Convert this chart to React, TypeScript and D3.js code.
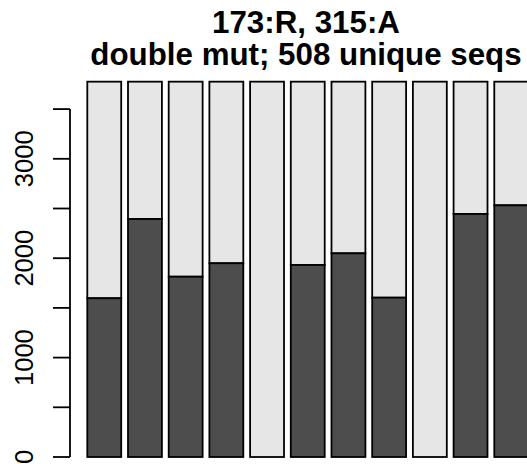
import { useEffect, useRef } from 'react'
import * as d3 from 'd3'

const W = 527, H = 464

const titleLines = ['173:R, 315:A', 'double mut; 508 unique seqs']
const bars = ['1', '2', '3', '4', '5', '6', '7', '8', '9', '10', '11']
const totals = [3776, 3776, 3776, 3776, 3776, 3776, 3776, 3776, 3776, 3776, 3776]
const darkVals = [1597, 2394, 1814, 1949, 0, 1932, 2049, 1603, 0, 2445, 2532]
const yTicks = [0, 500, 1000, 1500, 2000, 2500, 3000, 3500]
const yLabels = [0, 1000, 2000, 3000]

const FONT = 'Liberation Sans, Arial, Helvetica, sans-serif'

export default function App() {
  const svgRef = useRef<SVGSVGElement>(null)

  useEffect(() => {
    const svg = d3.select(svgRef.current!)
    svg.selectAll('*').remove()

    const x = d3.scaleBand<string>()
      .domain(bars)
      .range([87.3, 528.2])
      .paddingInner(1 / 6)
      .paddingOuter(0)

    const y = d3.scaleLinear().domain([0, 1000]).range([457, 357.6])

    svg.append('rect').attr('width', W).attr('height', H).attr('fill', '#fff')

    // light (top) part, drawn full height behind the dark part
    svg.append('g').selectAll('rect').data(bars).join('rect')
      .attr('x', d => x(d)!)
      .attr('width', x.bandwidth())
      .attr('y', (_, i) => y(totals[i]))
      .attr('height', (_, i) => y(darkVals[i]) - y(totals[i]))
      .attr('fill', '#e6e6e6')
      .attr('stroke', '#000')
      .attr('stroke-width', 1.8)

    svg.append('g').selectAll('rect').data(bars).join('rect')
      .attr('x', d => x(d)!)
      .attr('width', x.bandwidth())
      .attr('y', (_, i) => y(darkVals[i]))
      .attr('height', (_, i) => y(0) - y(darkVals[i]))
      .attr('fill', '#4d4d4d')
      .attr('stroke', '#000')
      .attr('stroke-width', 1.8)

    // y axis, R style
    const ax = svg.append('g').attr('transform', 'translate(70,0)')
    ax.append('line')
      .attr('y1', y(0)).attr('y2', y(3500))
      .attr('stroke', '#000').attr('stroke-width', 1.8)
    ax.selectAll('line.tick').data(yTicks).join('line')
      .attr('class', 'tick')
      .attr('x1', -17).attr('x2', 0)
      .attr('y1', d => y(d)).attr('y2', d => y(d))
      .attr('stroke', '#000').attr('stroke-width', 1.8)
    ax.selectAll('text').data(yLabels).join('text')
      .attr('transform', d => `translate(-37,${y(d)}) rotate(-90)`)
      .attr('text-anchor', 'middle')
      .attr('font-family', FONT)
      .attr('font-size', 25.5)
      .attr('fill', '#000')
      .text(d => d)

    // title
    svg.selectAll('text.title').data(titleLines).join('text')
      .attr('class', 'title')
      .attr('x', 306)
      .attr('y', (_, i) => 33.3 + i * 31.2)
      .attr('text-anchor', 'middle')
      .attr('font-family', FONT)
      .attr('font-weight', 'bold')
      .attr('font-size', 31.3)
      .attr('fill', '#000')
      .text(d => d)
  }, [])

  return (
    <svg
      ref={svgRef}
      width={W}
      height={H}
      viewBox={`0 0 ${W} ${H}`}
      style={{ position: 'absolute', left: 0, top: 0, display: 'block' }}
    />
  )
}
